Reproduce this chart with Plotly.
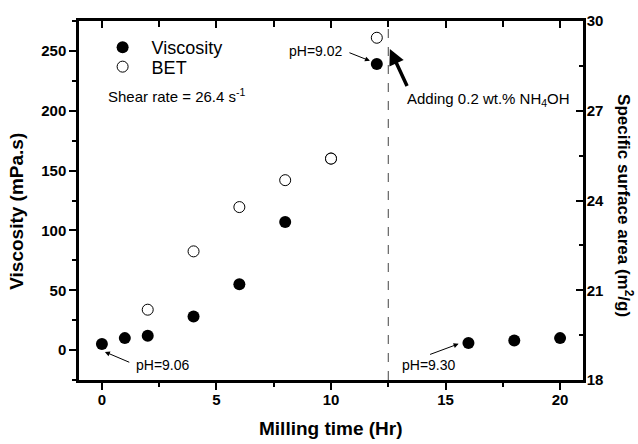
import plotly.graph_objects as go

# ---- data ----
visc_time = [0, 1, 2, 4, 6, 8, 10, 12, 16, 18, 20]
visc_vals = [5, 10, 12, 28, 55, 107, 160, 239, 6, 8, 10]
bet_time = [2, 4, 6, 8, 10, 12]
bet_vals = [20.35, 22.3, 23.78, 24.68, 25.4, 29.44]
x_ticks = [0, 5, 10, 15, 20]
y1_ticks = [0, 50, 100, 150, 200, 250]
y2_ticks = [18, 21, 24, 27, 30]
nh4oh_time = 12.5

FONT = "Liberation Sans, Arial, sans-serif"

fig = go.Figure()
fig.add_trace(go.Scatter(
    x=visc_time, y=visc_vals, mode="markers", name="Viscosity",
    marker=dict(symbol="circle", size=12, color="black"),
    xaxis="x", yaxis="y", legend="legend"))
fig.add_trace(go.Scatter(
    x=bet_time, y=bet_vals, mode="markers", name="BET",
    marker=dict(symbol="circle", size=11, color="white",
                line=dict(color="black", width=1)),
    xaxis="x", yaxis="y2", legend="legend2"))

tickfont = dict(family=FONT, size=15, color="black", weight="bold")

common_axis = dict(showgrid=False, zeroline=False, showline=True,
                   linecolor="black", linewidth=2.5, tickcolor="black",
                   tickwidth=2, ticklen=7)

legend_common = dict(xanchor="left", yanchor="middle", itemwidth=48,
                     bgcolor="rgba(0,0,0,0)",
                     font=dict(family=FONT, size=18, color="black"))

fig.update_layout(
    width=638, height=444,
    margin=dict(l=79, r=55, t=16, b=64),
    plot_bgcolor="white", paper_bgcolor="white",
    font=dict(family=FONT, color="black"),
    xaxis=dict(range=[-1, 21], tickvals=x_ticks, ticks="outside",
               tickfont=tickfont, ticklabelstandoff=-3,
               minor=dict(dtick=2.5, tick0=0, ticks="outside", ticklen=4,
                          tickwidth=2, tickcolor="black"),
               **common_axis),
    xaxis2=dict(range=[-1, 21], overlaying="x", side="top",
                tickvals=x_ticks, ticks="inside", showticklabels=False,
                minor=dict(dtick=2.5, tick0=0, ticks="inside", ticklen=6,
                           tickwidth=2, tickcolor="black"),
                **common_axis),
    yaxis=dict(range=[-25, 275], tickvals=y1_ticks, ticks="outside",
               tickfont=tickfont,
               minor=dict(dtick=25, tick0=0, ticks="outside", ticklen=4,
                          tickwidth=2, tickcolor="black"),
               **common_axis),
    yaxis2=dict(range=[18, 30], tickvals=y2_ticks, overlaying="y",
                side="right", ticks="inside", tickfont=tickfont,
                ticklabelstandoff=-2,
                minor=dict(dtick=1.5, tick0=18, ticks="inside", ticklen=4,
                           tickwidth=2, tickcolor="black"),
                **common_axis),
    showlegend=True,
    legend=dict(x=0.029, y=0.926, **legend_common),
    legend2=dict(x=0.029, y=0.872, **legend_common),
)

# dummy trace to activate the top axis
fig.add_trace(go.Scatter(x=[None], y=[None], xaxis="x2", yaxis="y",
                         showlegend=False, hoverinfo="skip"))

# dashed vertical line
fig.add_shape(type="line", x0=nh4oh_time, x1=nh4oh_time, y0=0, y1=1,
              xref="x", yref="paper",
              line=dict(color="#444", width=1, dash="dash"))

ann = []
# axis titles
ann.append(dict(text="<b>Milling time (Hr)</b>", x=0.5, y=-0.135,
                xref="paper", yref="paper", showarrow=False,
                xanchor="center", yanchor="middle",
                font=dict(family=FONT, size=19)))
ann.append(dict(text="<b>Viscosity (mPa.s)</b>", x=-0.124, y=0.47,
                xref="paper", yref="paper", showarrow=False, textangle=-90,
                xanchor="center", yanchor="middle",
                font=dict(family=FONT, size=19)))
ann.append(dict(text="<b>Specific surface area (m<sup>2</sup>/g)</b>",
                x=1.083, y=0.485, xref="paper", yref="paper",
                showarrow=False, textangle=90,
                xanchor="center", yanchor="middle",
                font=dict(family=FONT, size=17)))
# texts
ann.append(dict(text="Shear rate = 26.4 s<sup>-1</sup>", x=0.2, y=212.5,
                xref="x", yref="y", showarrow=False, xanchor="left",
                yanchor="middle", font=dict(family=FONT, size=15)))
ann.append(dict(text="Adding 0.2 wt.% NH<sub>4</sub>OH", x=13.22, y=209.6,
                xref="x", yref="y", showarrow=False, xanchor="left",
                yanchor="middle", font=dict(family=FONT, size=15)))
ann.append(dict(text="pH=9.02", x=10.6, y=250, xref="x", yref="y",
                showarrow=False, xanchor="right", yanchor="middle",
                font=dict(family=FONT, size=14)))
ann.append(dict(text="pH=9.06", x=1.39, y=-12.4, xref="x", yref="y",
                showarrow=False, xanchor="left", yanchor="middle",
                font=dict(family=FONT, size=14)))
ann.append(dict(text="pH=9.30", x=13.0, y=-12.4, xref="x", yref="y",
                showarrow=False, xanchor="left", yanchor="middle",
                font=dict(family=FONT, size=14)))
# arrows
def arrow(x0, y0, x1, y1, width=1, head=2, size=1.0):
    return dict(text="", x=x1, y=y1, ax=x0, ay=y0, xref="x", yref="y",
                axref="x", ayref="y", showarrow=True, arrowhead=head,
                arrowwidth=width, arrowsize=size, arrowcolor="black")
ann.append(arrow(10.74, 249, 11.7, 241.7))
ann.append(arrow(13.35, 219.5, 12.57, 251.6, width=3.5, head=2, size=0.9))
ann.append(arrow(1.26, -10.7, 0.13, -1.5))
ann.append(arrow(14.26, -4.1, 15.57, 5.2))

fig.update_layout(annotations=ann)

fig.write_html("out.html", config={"displayModeBar": False},
               post_script="document.body.style.margin='0';")
